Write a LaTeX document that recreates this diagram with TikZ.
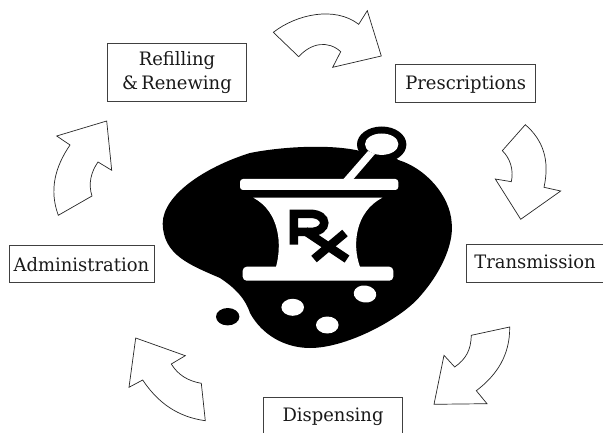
\documentclass[tikz,border=0pt]{standalone}
\usepackage{fontspec}
\setmainfont{DejaVu Serif}[FakeStretch=0.97]
\tikzset{
  box/.style={draw=black!75,line width=0.9pt},
  label/.style={inner sep=0pt,align=center,font=\fontsize{18.5}{24}\selectfont,text=black!90},
  turn/.style={draw=black!85,line width=0.7pt,fill=white,line join=miter},
  ink/.style={fill=black,draw=none},
  paper/.style={fill=white,draw=none},
  rx/.style={draw=black,line width=8.5pt,line cap=butt,line join=miter},
}
\begin{document}
\begin{tikzpicture}[x=1pt,y=-1pt]
\useasboundingbox (0,0) rectangle (603,433);
% boxes
\draw[box] (107.3,43.3) rectangle (246.7,101.3);
\node[label] (refill) at (177,72.5) {Refilling\\\&\,Renewing};
\draw[box] (395.7,64.7) rectangle (535.7,102);
\node[label] (presc) at (465.7,85) {Prescriptions};
\draw[box] (603,244.3) -- (466.7,244.3) -- (466.7,282.3) -- (603,282.3);
\node[label] (trans) at (535,262) {Transmission};
\draw[box] (9,245.7) rectangle (154,282.7);
\node[label] (admin) at (81.5,264.5) {Administration};
\draw[box] (263.3,433) -- (263.3,397.7) -- (402.3,397.7) -- (402.3,433);
\node[label] (disp) at (333,417) {Dispensing};
% curved arrows
\draw[turn] (273.3,32.3) .. controls (297,14) and (335,6) .. (358.7,24.3) -- (367.3,10.7) -- (381.3,56) -- (332.7,67.3) -- (340.7,51.7) .. controls (328,40) and (311,43) .. (298.7,56.7) -- cycle;
\draw[turn] (525.3,124.7) .. controls (543,140) and (550,160) .. (544,187.3) -- (560.7,191) -- (520.7,219.3) -- (495.3,179) -- (511.3,181.7) .. controls (514,170) and (510,158) .. (502.3,150.7) -- cycle;
\draw[turn] (509.7,327) -- (471.3,335.3) .. controls (471,350) and (466,359) .. (454.7,367) -- (444,355.3) -- (434,404.3) -- (487,403.7) -- (476.3,390.7) .. controls (497,375) and (510,355) .. cycle;
\draw[turn] (135.7,338) -- (185.3,355.7) -- (171.3,364) .. controls (178,375) and (188,381) .. (201.3,383.3) -- (205.3,420.7) .. controls (178,417) and (158,403) .. (142.7,380) -- (129,387.3) -- cycle;
\draw[turn] (106.7,121) -- (111.7,170.3) -- (98,162) .. controls (91,172) and (88,184) .. (92,196) -- (58.3,215.3) .. controls (49,190) and (55,167) .. (70,145) -- (56.7,136) -- cycle;
% blob
\draw[ink] (162.7,223.3) .. controls (163,195) and (205,167) .. (250,153) .. controls (285,146) and (335,144) .. (363,151.7)
  .. controls (385,152) and (395,157) .. (398.3,160) .. controls (425,168) and (450,195) .. (451.7,223) .. controls (454,245) and (440,275) .. (416.7,300)
  .. controls (395,322) and (345,348) .. (310,348) .. controls (285,348) and (262,335) .. (250,313) .. controls (245,298) and (235,288) .. (220,278)
  .. controls (190,265) and (163,255) .. cycle;
\draw[ink] (381.7,144.5) ellipse [x radius=24.7,y radius=18];
\fill[white] (381.7,144.2) ellipse [x radius=16.7,y radius=10.7];
\fill[white] (343.5,179) -- (368,151) -- (375,154) -- (353.5,179) -- cycle;
% mortar
\fill[white,rounded corners=3pt] (240,179) rectangle (398.3,190);
\fill[white] (253.3,197.7) -- (382.3,197.7) .. controls (355,212) and (352,245) .. (360,267) -- (276,267) .. controls (282,245) and (280,212) .. cycle;
\fill[white,rounded corners=4pt] (242.7,266.7) rectangle (393.3,280.7);
% Rx
\draw[rx] (293.8,244.5) -- (293.8,213.8) -- (310,213.8) .. controls (329,213.8) and (329,232) .. (310,232) -- (293.8,232);
\draw[rx] (305,231) -- (347,259);
\draw[rx] (345,233) -- (314,259);
% dots
\fill[black] (227.7,316.7) ellipse [x radius=11.7,y radius=8.7];
\fill[white] (292.7,307.3) ellipse [x radius=11.3,y radius=8.5];
\fill[white] (327.3,325) ellipse [x radius=11.3,y radius=8.5];
\fill[white,rotate around={-8:(365,294)}] (365,294) ellipse [x radius=11.3,y radius=8.5];
\end{tikzpicture}
\end{document}
